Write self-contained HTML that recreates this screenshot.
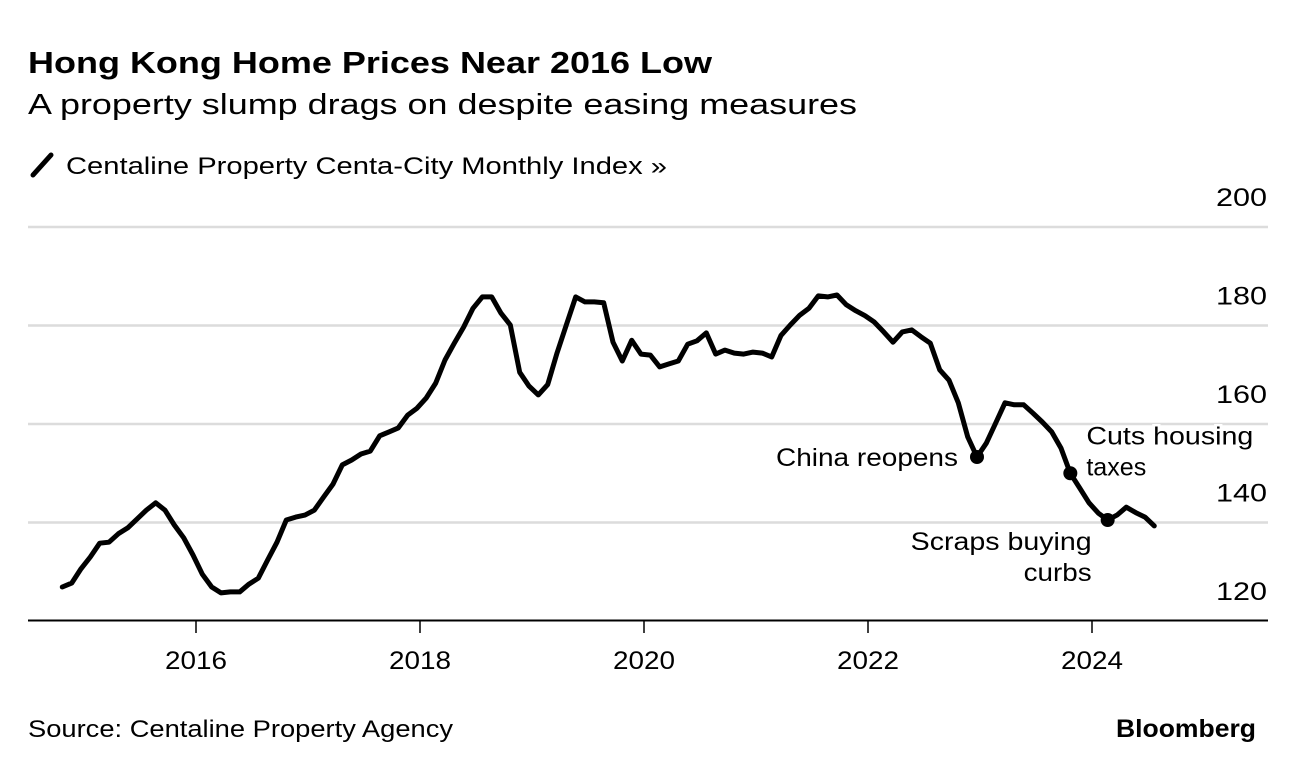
<!DOCTYPE html>
<html><head><meta charset="utf-8"><style>
body{margin:0;width:1296px;height:770px;background:#fff;font-family:"Liberation Sans",Arial,sans-serif;overflow:hidden}
svg text{font-family:"Liberation Sans",Arial,sans-serif}
</style></head><body>
<svg id="chart" width="1296" height="770">
<text x="28" y="73" font-size="31" font-weight="bold" fill="#000" textLength="684" lengthAdjust="spacingAndGlyphs">Hong Kong Home Prices Near 2016 Low</text>
<text x="28" y="114" font-size="29" fill="#000" textLength="829" lengthAdjust="spacingAndGlyphs">A property slump drags on despite easing measures</text>
<line x1="33" y1="175" x2="51" y2="155" stroke="#000" stroke-width="5" stroke-linecap="round"/>
<text x="66" y="174" font-size="24" fill="#000" textLength="601" lengthAdjust="spacingAndGlyphs">Centaline Property Centa-City Monthly Index »</text>
<g id="grid"></g>
<g id="xaxis"></g>
<path id="line" fill="none" stroke="#000" stroke-width="5" stroke-linejoin="round" stroke-linecap="round"/>
<g id="ann"></g>
<text x="28" y="737" font-size="24" fill="#000" textLength="425" lengthAdjust="spacingAndGlyphs">Source: Centaline Property Agency</text>
<text x="1116" y="737" font-size="25" font-weight="bold" fill="#000" textLength="140" lengthAdjust="spacingAndGlyphs">Bloomberg</text>
</svg>
<script>
const values=[126.9,127.7,130.6,133,135.8,136,137.7,138.9,140.7,142.5,144,142.5,139.5,136.9,133.4,129.5,126.9,125.7,125.9,125.9,127.5,128.7,132.4,136,140.5,141.1,141.5,142.5,145.2,147.8,151.7,152.7,153.9,154.5,157.6,158.4,159.2,161.8,163.2,165.3,
168.3,173,176.4,179.7,183.5,185.8,185.8,182.5,180.1,170.5,167.7,165.9,168,174.4,180.1,185.8,184.8,184.8,184.6,176.6,172.8,177,174.2,174,171.6,172.2,172.8,176.2,176.9,178.5,174.2,175,174.4,174.2,174.6,174.4,173.6,178,180.1,182.1,183.5,186,
185.8,186.2,184.2,183,182,180.7,178.7,176.6,178.7,179.1,177.7,176.4,171,168.9,164.3,157.4,153.3,156.1,160.2,164.3,163.9,163.9,162.2,160.4,158.4,155.1,150,147,144,141.9,140.5,141.5,143.1,142,141.1,139.3];
const startYear=2014, startMonth=10; // Nov 2014 (0-based month)
const yTicks=[120,140,160,180,200];
const xTicks=[2016,2018,2020,2022,2024];
const annotations=[
 {idx:98,lines:["China reopens"],widths:[182],anchor:"end",dx:-19,dy:9},
 {idx:108,lines:["Cuts housing","taxes"],widths:[167,60],anchor:"start",dx:16,dy:-29},
 {idx:112,lines:["Scraps buying","curbs"],widths:[181,68],anchor:"end",dx:-16,dy:30}
];
const NS="http://www.w3.org/2000/svg";
function yS(v){return 621-(v-120)*4.925;}
function xT(t){return 196+(t-2016)*112;}
function xI(i){const t=startYear+(startMonth+i)/12;return xT(t)-3;}
const grid=document.getElementById('grid');
yTicks.forEach(v=>{
 if(v>120){const l=document.createElementNS(NS,'line');
 l.setAttribute('x1',28);l.setAttribute('x2',1268);l.setAttribute('y1',yS(v));l.setAttribute('y2',yS(v));
 l.setAttribute('stroke','#dcdcdc');l.setAttribute('stroke-width','2.5');
 
 
 grid.appendChild(l);}
 const t=document.createElementNS(NS,'text');
 t.setAttribute('x',1216);t.setAttribute('y',yS(v)-21);t.setAttribute('font-size','25');
 t.setAttribute('textLength','51');t.setAttribute('lengthAdjust','spacingAndGlyphs');
 t.textContent=v;
 
 
 grid.appendChild(t);
});
const xa=document.getElementById('xaxis');
const base=document.createElementNS(NS,'line');
base.setAttribute('x1',28);base.setAttribute('x2',1268);base.setAttribute('y1',620.5);base.setAttribute('y2',620.5);base.setAttribute('stroke','#000');base.setAttribute('stroke-width','2');


xa.appendChild(base);
xTicks.forEach(y=>{
 const tk=document.createElementNS(NS,'line');
 tk.setAttribute('x1',xT(y));tk.setAttribute('x2',xT(y));tk.setAttribute('y1',621);tk.setAttribute('y2',633);tk.setAttribute('stroke','#000');tk.setAttribute('stroke-width','1.5');
 
 
 xa.appendChild(tk);
 const t=document.createElementNS(NS,'text');
 t.setAttribute('x',xT(y)-31);t.setAttribute('y',669);t.setAttribute('font-size','25');
 t.setAttribute('textLength','62');t.setAttribute('lengthAdjust','spacingAndGlyphs');
 t.textContent=y;
 
 
 xa.appendChild(t);
});
document.getElementById('line').setAttribute('d',values.map((v,i)=>(i?'L':'M')+xI(i).toFixed(1)+','+yS(v).toFixed(1)).join(''));
const ann=document.getElementById('ann');
annotations.forEach(a=>{
 const cx=xI(a.idx),cy=yS(values[a.idx]);
 const c=document.createElementNS(NS,'circle');
 c.setAttribute('cx',cx);c.setAttribute('cy',cy);c.setAttribute('r',7);c.setAttribute('fill','#000');
 
 
 ann.appendChild(c);
 a.lines.forEach((s,k)=>{
  const t=document.createElementNS(NS,'text');
  const w=a.widths[k];
  const x0=a.anchor==='end'?cx+a.dx-w:cx+a.dx;
  t.setAttribute('x',x0);t.setAttribute('y',cy+a.dy+k*31);t.setAttribute('font-size','25');
  t.setAttribute('textLength',w);t.setAttribute('lengthAdjust','spacingAndGlyphs');
  t.setAttribute('stroke','#fff');t.setAttribute('stroke-width','5');t.setAttribute('paint-order','stroke');
  t.textContent=s;
  
  
  ann.appendChild(t);
 });
});
</script>
</body></html>
